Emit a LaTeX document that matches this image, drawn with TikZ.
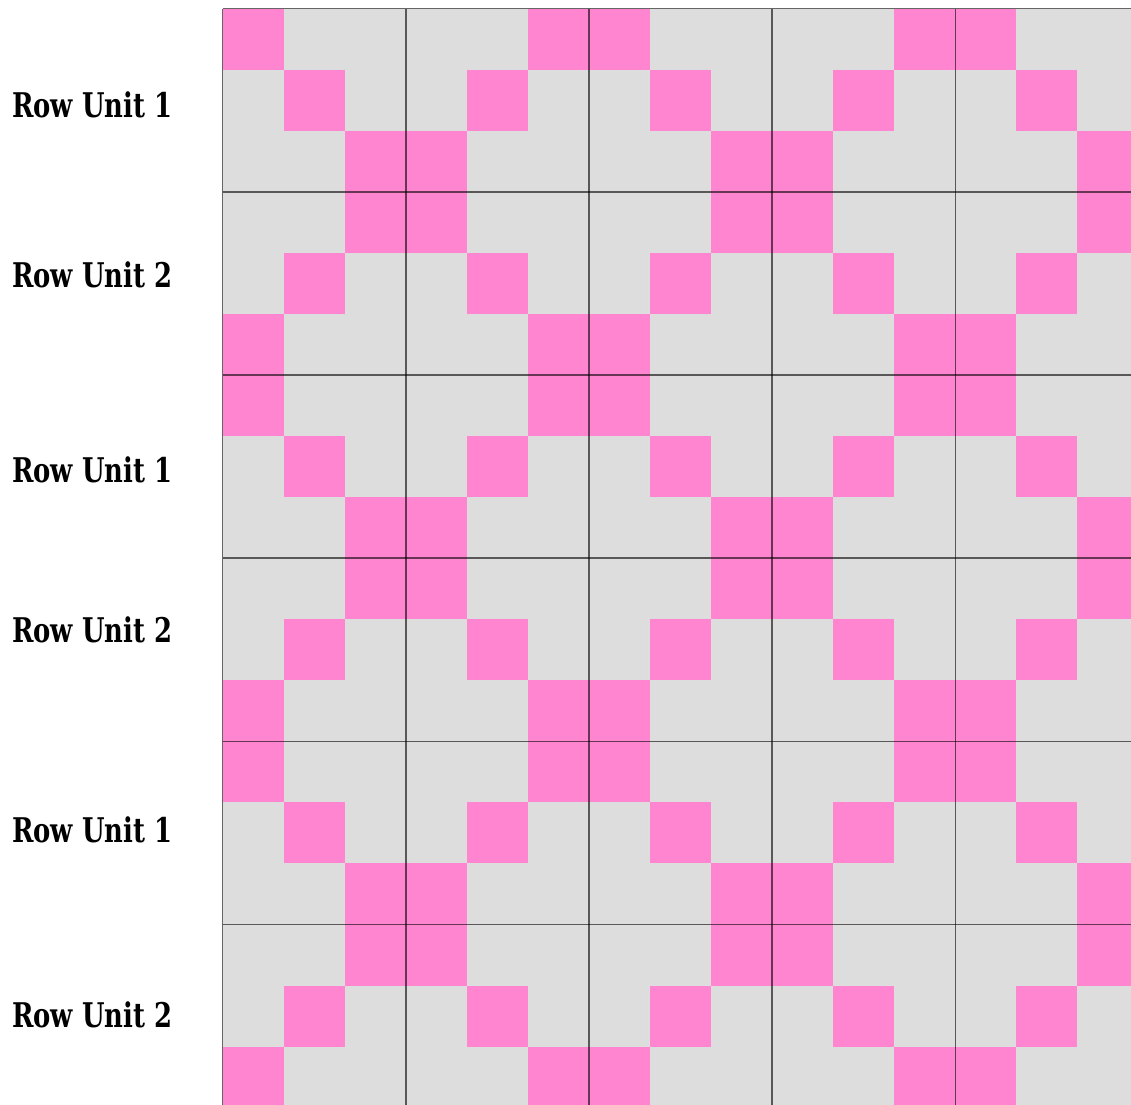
\documentclass[tikz,border=0pt]{standalone}
\usepackage{fontspec}
\newfontfamily\labfont{DejaVu Serif}[BoldFont={DejaVu Serif Bold}]
\definecolor{cellgray}{HTML}{DDDDDD}
\definecolor{cellpink}{HTML}{FF85D0}
\tikzset{
  pinkcell/.style={fill=cellpink},
  majorline/.style={draw=black, draw opacity=0.6, line width=1.6pt},
  rowlabel/.style={anchor=base west, inner sep=0pt, font=\labfont\bfseries\fontsize{34}{40}\selectfont}
}
\newcommand{\rowtext}[1]{\scalebox{0.76}[1]{#1}}
\begin{document}
\begin{tikzpicture}[x=1pt,y=-1pt]
\useasboundingbox (0,0) rectangle (1131,1104);
\def\xo{222.5}
\def\yo{8.5}
\def\cs{61.07}
\begin{scope}
\clip (0,0) rectangle (1131,1104);
\fill[cellgray] (\xo,\yo) rectangle (1140,1110);
\foreach \r in {0,...,17}{
  \foreach \c in {0,...,14}{
    \pgfmathtruncatemacro{\u}{mod(floor(\r/3),2)}
    \pgfmathtruncatemacro{\rr}{mod(\r,3)}
    \pgfmathtruncatemacro{\k}{\u==0 ? \rr : 2-\rr}
    \pgfmathtruncatemacro{\m}{mod(\c,6)}
    \pgfmathtruncatemacro{\p}{or(\m==\k,\m==5-\k)}
    \ifnum\p=1
      \fill[pinkcell] ({\xo+\c*\cs},{\yo+\r*\cs}) rectangle ++(\cs,\cs);
    \fi
  }
}
\foreach \i in {0,...,4}{
  \draw[majorline] ({\xo+3*\i*\cs},\yo) -- ({\xo+3*\i*\cs},1110);
}
\foreach \j in {0,...,5}{
  \draw[majorline] (\xo,{\yo+3*\j*\cs}) -- (1140,{\yo+3*\j*\cs});
}
\end{scope}
\node[rowlabel] (l1) at (12,117) {\rowtext{Row Unit 1}};
\node[rowlabel] (l2) at (12,287) {\rowtext{Row Unit 2}};
\node[rowlabel] (l3) at (12,482) {\rowtext{Row Unit 1}};
\node[rowlabel] (l4) at (12,642) {\rowtext{Row Unit 2}};
\node[rowlabel] (l5) at (12,842) {\rowtext{Row Unit 1}};
\node[rowlabel] (l6) at (12,1027) {\rowtext{Row Unit 2}};
\end{tikzpicture}
\end{document}
